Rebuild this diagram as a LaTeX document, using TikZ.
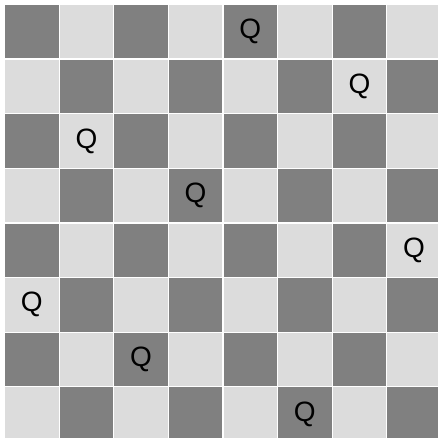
\documentclass[tikz,border=0pt]{standalone}
\usepackage{fontspec}
\setmainfont{Liberation Sans}
\definecolor{darksq}{HTML}{808080}
\definecolor{lightsq}{HTML}{DCDCDC}
\tikzset{
  sq/.style={draw=white, line width=1.2pt},
  queen/.style={font=\fontsize{28}{30}\selectfont, text=black, inner sep=0pt}
}
\begin{document}
\begin{tikzpicture}[x=1pt,y=1pt]
\useasboundingbox (0,0) rectangle (438,437);
\fill[white] (0,0) rectangle (438,437);
\begin{scope}
\clip (0,0) rectangle (438,437);
\foreach \r in {0,...,7}{
  \foreach \c in {0,...,7}{
    \pgfmathtruncatemacro{\pty}{mod(\r+\c,2)}
    \ifnum\pty=0
      \filldraw[sq, fill=darksq] (4.5+\c*54.6, 432.5-\r*54.6) rectangle ++(54.6,-54.6);
    \else
      \filldraw[sq, fill=lightsq] (4.5+\c*54.6, 432.5-\r*54.6) rectangle ++(54.6,-54.6);
    \fi
  }
}
\end{scope}
\foreach \r/\c [count=\i] in {0/4,1/6,2/1,3/3,4/7,5/0,6/2,7/5}{
  \node[queen] (q\i) at (4.5+\c*54.6+27.3, 432.5-\r*54.6-27.3) {Q};
}
\end{tikzpicture}
\end{document}
